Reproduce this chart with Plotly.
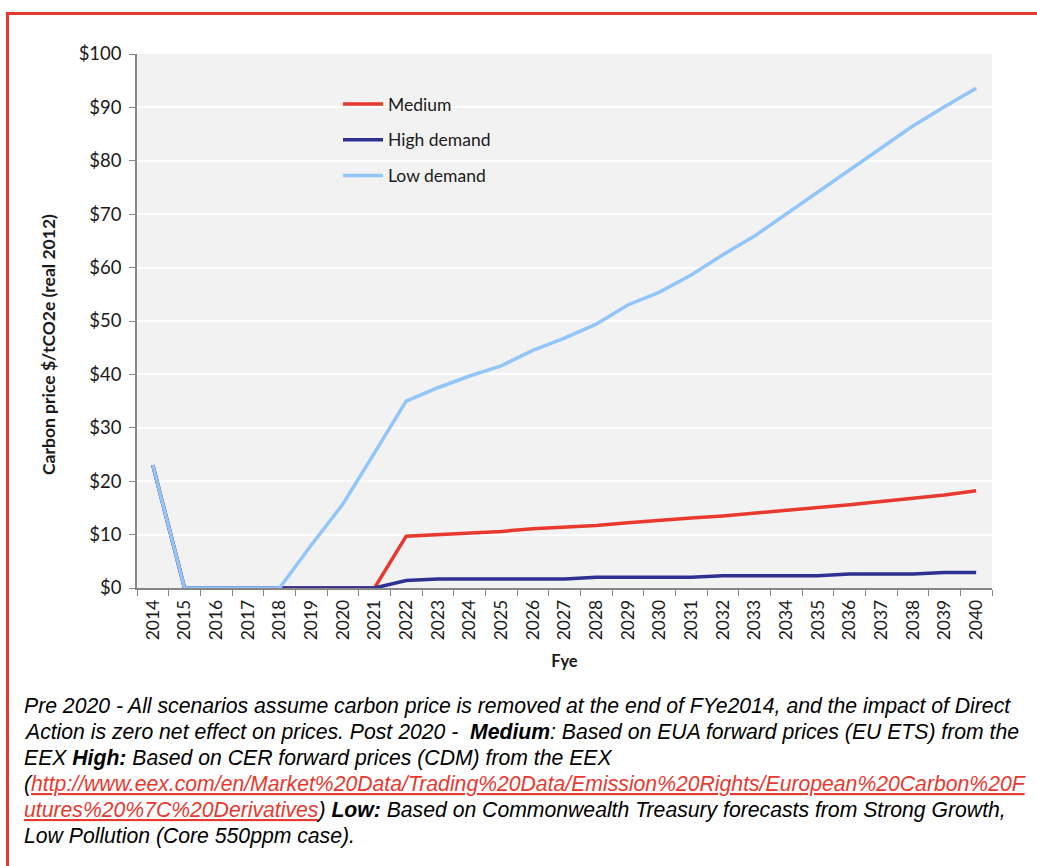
import plotly.graph_objects as go

# ---- data -------------------------------------------------------------
years = [str(y) for y in range(2014, 2041)]

medium = [23.0, 0, 0, 0, 0, 0, 0, 0,
          9.7, 10.0, 10.3, 10.6, 11.1, 11.4, 11.7, 12.2, 12.7, 13.1,
          13.5, 14.0, 14.5, 15.0, 15.6, 16.2, 16.8, 17.4, 18.2]

high_demand = [23.0, 0, 0, 0, 0, 0, 0, 0,
               1.4, 1.7, 1.7, 1.7, 1.7, 1.7, 2.0, 2.0, 2.0, 2.0,
               2.3, 2.3, 2.3, 2.3, 2.6, 2.6, 2.6, 2.9, 2.9]

low_demand = [23.0, 0, 0, 0, 0, 8.0, 15.7, 25.3,
              35.0, 37.5, 39.7, 41.6, 44.5, 46.8, 49.4, 53.0, 55.4, 58.6,
              62.4, 65.9, 70.0, 74.2, 78.3, 82.4, 86.5, 90.1, 93.6]

series = [
    ("Medium", medium, "#E8392F"),
    ("High demand", high_demand, "#2E3192"),
    ("Low demand", low_demand, "#92C5F9"),
]

caption_lines = [
    "Pre 2020 - All scenarios assume carbon price is removed at the end of FYe2014, and the impact of Direct",
    "Action is zero net effect on prices. Post 2020 -  <b>Medium</b>: Based on EUA forward prices (EU ETS) from the",
    "EEX <b>High:</b> Based on CER forward prices (CDM) from the EEX",
    "(<span style='color:#E8392F'><u>http://www.eex.com/en/Market%20Data/Trading%20Data/Emission%20Rights/European%20Carbon%20F</u></span>",
    "<span style='color:#E8392F'><u>utures%20%7C%20Derivatives</u></span>) <b>Low:</b> Based on Commonwealth Treasury forecasts from Strong Growth,",
    "Low Pollution (Core 550ppm case).",
]

# ---- page geometry (pixels) ------------------------------------------
W, H = 1037, 866
PL, PR, PT, PB = 137, 992, 54, 588


def px_x(x):
    return (x - PL) / (PR - PL)


def px_y(y):
    return (PB - y) / (PB - PT)


FONT = "Lato, 'Open Sans', sans-serif"
TEXT = "#1a1a1a"
AXIS = "#868686"

fig = go.Figure()
for i, (name, vals, col) in enumerate(series):
    fig.add_trace(go.Scatter(
        x=years, y=vals, name=name, mode="lines",
        line=dict(color=col, width=3.5),
        legendgroup=f"g{i}",
    ))

fig.update_layout(
    width=W, height=H,
    margin=dict(l=PL, r=W - PR, t=PT, b=H - PB, autoexpand=False),
    paper_bgcolor="white",
    plot_bgcolor="#F2F2F2",
    font=dict(family=FONT, size=17, color=TEXT),
    showlegend=True,
    legend=dict(
        x=px_x(338), y=px_y(86), xanchor="left", yanchor="top",
        bgcolor="rgba(0,0,0,0)", traceorder="grouped", tracegroupgap=10,
        itemwidth=40,
        font=dict(family=FONT, size=17.5, color=TEXT),
    ),
    xaxis=dict(
        type="category", range=[-0.5, len(years) - 0.5],
        tickangle=-90, ticks="outside", tickson="boundaries",
        ticklen=6, tickcolor=AXIS, showline=True, linecolor=AXIS,
        linewidth=1.5, showgrid=False, zeroline=False, ticklabelstandoff=3,
        tickfont=dict(family=FONT, size=17.5),
        title=dict(text="<b>Fye</b>", font=dict(family=FONT, size=16.5), standoff=16),
    ),
    yaxis=dict(
        range=[0, 100], dtick=10, tickprefix="$", ticks="outside", ticklen=6,
        tickcolor=AXIS, showline=True, linecolor=AXIS, linewidth=1.5,
        showgrid=True, gridcolor="white", gridwidth=2, zeroline=False,
        ticklabelstandoff=4,
        tickfont=dict(family=FONT, size=18.5),
    ),
)

# y-axis title, set a little below the plot's mid-height
fig.add_annotation(
    xref="paper", yref="paper", x=px_x(48), y=px_y(345),
    xanchor="center", yanchor="middle", textangle=-90, showarrow=False,
    text="<b>Carbon price $/tCO2e (real 2012)</b>",
    font=dict(family=FONT, size=17.5, color=TEXT),
)

# outer red frame (top and left edges; the others run off the page)
FRAME = dict(color="#E53A2F", width=3)
fig.add_shape(type="line", xref="paper", yref="paper",
              x0=px_x(6), x1=px_x(W + 5), y0=px_y(13.5), y1=px_y(13.5),
              line=FRAME, layer="above")
fig.add_shape(type="line", xref="paper", yref="paper",
              x0=px_x(7.5), x1=px_x(7.5), y0=px_y(12), y1=px_y(H + 5),
              line=FRAME, layer="above")

# caption underneath the chart
line_y0, line_step = 706, 26
for k, txt in enumerate(caption_lines):
    fig.add_annotation(
        xref="paper", yref="paper", x=px_x(22), y=px_y(line_y0 + k * line_step),
        xanchor="left", yanchor="middle", showarrow=False, align="left",
        text=f"<i>{txt}</i>",
        font=dict(family="Liberation Sans, Arial, sans-serif", size=21.2, color="black"),
    )

fig.write_html("out.html")
